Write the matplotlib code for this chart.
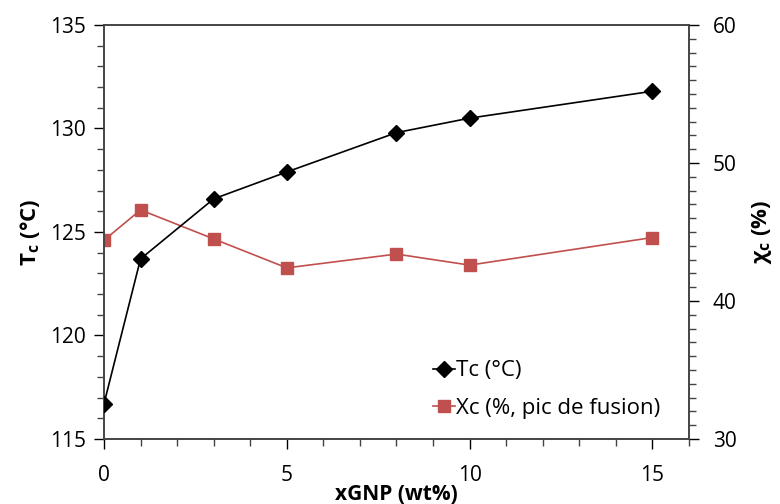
import matplotlib
matplotlib.use("Agg")
import matplotlib.pyplot as plt
from matplotlib.ticker import MultipleLocator

plt.rcParams['font.family'] = ['Open Sans', 'DejaVu Sans']

# data
x_gnp = [0, 1, 3, 5, 8, 10, 15]
tc = [116.7, 123.7, 126.6, 127.9, 129.8, 130.5, 131.8]
xc = [44.4, 46.6, 44.5, 42.4, 43.4, 42.6, 44.6]

fig = plt.figure(figsize=(7.8, 5.04), dpi=100)
ax = fig.add_axes([0.1333, 0.129, 0.7500, 0.8214])
ax2 = ax.twinx()

l1, = ax.plot(x_gnp, tc, color='black', lw=1.2, marker='D', ms=8,
              label='Tc (°C)', zorder=3)
l2, = ax2.plot(x_gnp, xc, color='#C0504D', lw=1.2, marker='s', ms=8.5,
               label='Xc (%, pic de fusion)')

ax.set_xlim(0, 16)
ax.set_ylim(115, 135)
ax2.set_ylim(30, 60)

ax.xaxis.set_major_locator(MultipleLocator(5))
ax.xaxis.set_minor_locator(MultipleLocator(1))
ax.yaxis.set_major_locator(MultipleLocator(5))
ax.yaxis.set_minor_locator(MultipleLocator(1))
ax2.yaxis.set_major_locator(MultipleLocator(10))
ax2.yaxis.set_minor_locator(MultipleLocator(1))

for a in (ax, ax2):
    a.tick_params(which='major', length=7, width=1, labelsize=15, color='black')
    a.tick_params(which='minor', length=5, width=1, color='#444444')
    for s in a.spines.values():
        s.set_color('#444444')
        s.set_linewidth(1.2)
ax.tick_params(axis='x', pad=12)
ax.tick_params(axis='y', pad=6)
ax2.tick_params(axis='y', pad=10)

ax.set_xlabel('xGNP (wt%)', fontsize=15, fontweight='bold', labelpad=-2)
ax.set_ylabel('T$_\\mathregular{c}$ (°C)', fontsize=16, fontweight='bold', labelpad=6)
ax2.set_ylabel('χ$_\\mathregular{c}$ (%)', fontsize=16, fontweight='bold', labelpad=10)

ax.set_zorder(ax2.get_zorder() + 1)
ax.patch.set_visible(False)

ax.legend(handles=[l1, l2], loc='lower right', bbox_to_anchor=(0.985, 0.0),
          frameon=False, fontsize=16, handlelength=1.0, handletextpad=0.05,
          labelspacing=0.75)

fig.savefig('out.png', dpi=100)
